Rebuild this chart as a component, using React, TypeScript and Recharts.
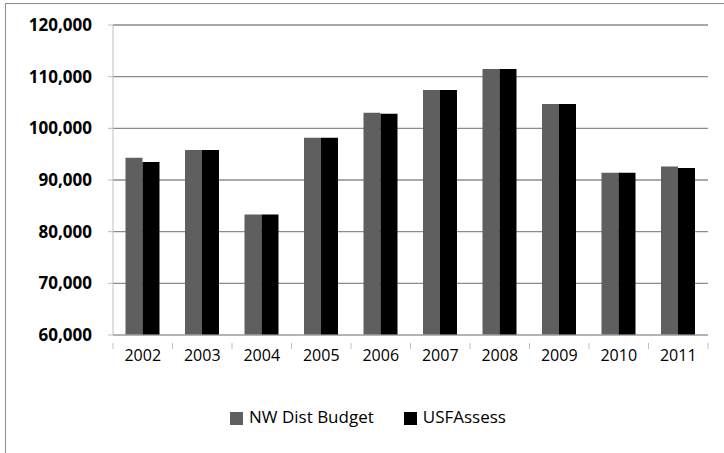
import React from 'react';
import { BarChart, Bar, XAxis, YAxis, CartesianGrid, Legend } from 'recharts';

const years = ['2002', '2003', '2004', '2005', '2006', '2007', '2008', '2009', '2010', '2011'];
const nwDistBudget = [94300, 95800, 83300, 98200, 103000, 107400, 111500, 104700, 91400, 92600];
const usfAssess = [93500, 95800, 83300, 98200, 102800, 107400, 111500, 104700, 91400, 92300];
const yTicks = [60000, 70000, 80000, 90000, 100000, 110000, 120000];

const data = years.map((year, i) => ({
  year,
  nw: nwDistBudget[i],
  usf: usfAssess[i],
}));

const FONT = '"Open Sans", "DejaVu Sans", sans-serif';
const W = 724;
const H = 453;
const LEFT = 113;
const RIGHT = 16;
const band = (W - LEFT - RIGHT) / years.length;

const formatNumber = (v: number) => v.toLocaleString('en-US');

const YearTick = ({ x, y, payload, index }: any) => {
  const half = band / 2;
  return (
    <g>
      <line x1={x - half} y1={y} x2={x - half} y2={y + 6} stroke="#bfbfbf" />
      {index === years.length - 1 && (
        <line x1={x + half} y1={y} x2={x + half} y2={y + 6} stroke="#bfbfbf" />
      )}
      <text x={x} y={y + 18} textAnchor="middle" fontSize={16} fill="#000" fontFamily={FONT}>
        {payload.value}
      </text>
    </g>
  );
};

export default function App() {
  return (
    <div style={{ position: 'absolute', left: 0, top: 0, width: W, height: H, background: '#fff' }}>
      <div
        style={{
          position: 'absolute',
          left: 5,
          top: 3,
          width: W,
          height: H,
          borderLeft: '1px solid #8c8c8c',
          borderTop: '1px solid #8c8c8c',
        }}
      />
      <BarChart
        width={W}
        height={H}
        data={data}
        margin={{ top: 25, right: RIGHT, bottom: 88, left: 0 }}
        barCategoryGap="21%"
        barGap={0}
        style={{ position: 'absolute', left: 0, top: 0 }}
      >
        <CartesianGrid vertical={false} stroke="#8c8c8c" strokeWidth={1.3} />
        <XAxis
          dataKey="year"
          height={30}
          axisLine={{ stroke: '#bfbfbf' }}
          tickLine={false}
          tick={<YearTick />}
          interval={0}
        />
        <YAxis
          width={LEFT}
          domain={[60000, 120000]}
          ticks={yTicks}
          tickFormatter={formatNumber}
          axisLine={{ stroke: '#bfbfbf' }}
          tickLine={{ stroke: '#bfbfbf' }}
          tickSize={5}
          tickMargin={16}
          allowDataOverflow
          tick={{ fontSize: 17, fontWeight: 700, fill: '#000', fontFamily: FONT }}
        />
        <Legend
          layout="horizontal"
          verticalAlign="middle"
          align="center"
          iconType="square"
          iconSize={13}
          wrapperStyle={{
            top: 405,
            left: 14,
            width: W,
            paddingLeft: 14,
            boxSizing: 'border-box',
            fontFamily: FONT,
            fontSize: 17,
          }}
          formatter={(value: string) => (
            <span style={{ color: '#000', marginRight: 20, marginLeft: 2 }}>{value}</span>
          )}
        />
        <Bar dataKey="nw" name="NW Dist Budget" fill="#5f5f5f" isAnimationActive={false} />
        <Bar dataKey="usf" name="USFAssess" fill="#000000" isAnimationActive={false} />
      </BarChart>
    </div>
  );
}
